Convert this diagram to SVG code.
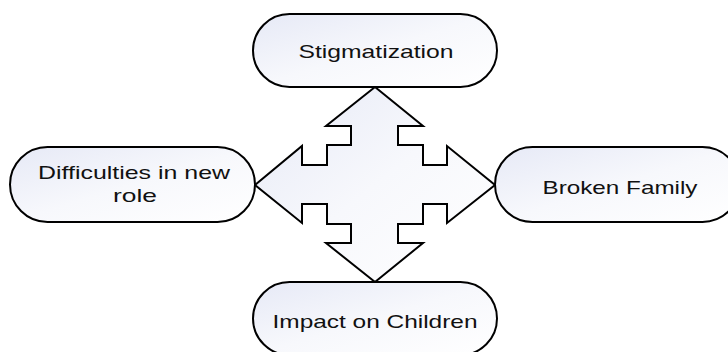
<svg xmlns="http://www.w3.org/2000/svg" width="728" height="352" viewBox="0 0 728 352">
<defs>
<linearGradient id="g" x1="0" y1="0" x2="1" y2="1">
<stop offset="0" stop-color="#e6e9f6"/>
<stop offset="0.5" stop-color="#f7f8fc"/>
<stop offset="1" stop-color="#ffffff"/>
</linearGradient>
<style>
.n{fill:url(#g);stroke:#000;stroke-width:2}
.t{font-family:"Liberation Sans",Arial,sans-serif;font-size:18.5px;fill:#111;text-anchor:middle}
</style>
</defs>
<rect width="728" height="352" fill="#fff"/>
<g id="connectors">
<path class="n" stroke-linejoin="miter" d="M375,87 L423,126 L398,126 L398,145 L423,145 L423,165 L447,165 L447,146 L495,185 L447,223 L447,204 L423,204 L423,224 L398,224 L398,243 L423,243 L375,282 L326,243 L351,243 L351,224 L327,224 L327,204 L302,204 L302,223 L255,185 L302,146 L302,165 L327,165 L327,145 L351,145 L351,126 L326,126 Z"/>
</g>
<g id="stigmatization">
<rect class="n" x="253" y="14" width="244" height="73" rx="36.5"/>
<text class="t" x="376" y="58" textLength="155" lengthAdjust="spacingAndGlyphs">Stigmatization</text>
</g>
<g id="difficulties">
<rect class="n" x="10" y="147" width="245" height="75" rx="37.5"/>
<text class="t" x="134" y="179" textLength="192" lengthAdjust="spacingAndGlyphs">Difficulties in new</text>
<text class="t" x="135" y="202" textLength="44" lengthAdjust="spacingAndGlyphs">role</text>
</g>
<g id="broken-family">
<rect class="n" x="495" y="147" width="245" height="75" rx="37.5"/>
<text class="t" x="620" y="194" textLength="155" lengthAdjust="spacingAndGlyphs">Broken Family</text>
</g>
<g id="impact-children">
<rect class="n" x="253" y="282" width="244" height="73" rx="36.5"/>
<text class="t" x="375" y="328" textLength="205" lengthAdjust="spacingAndGlyphs">Impact on Children</text>
</g>
</svg>
